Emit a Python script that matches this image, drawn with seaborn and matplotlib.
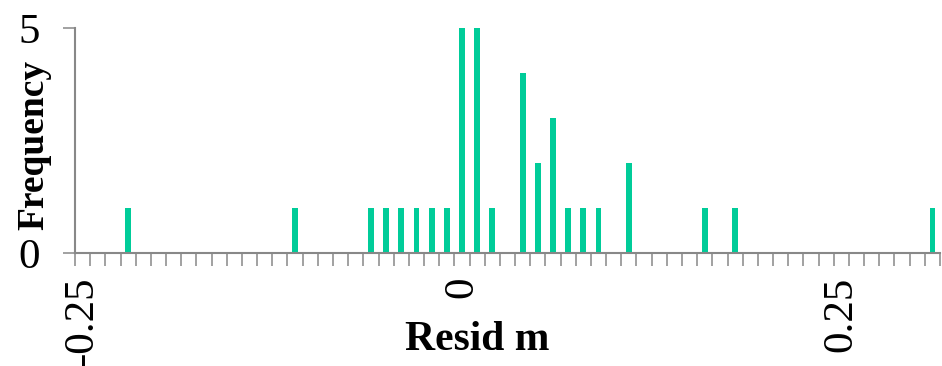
import numpy as np
import pandas as pd
import seaborn as sns
import matplotlib
matplotlib.use("Agg")
import matplotlib.pyplot as plt

# residual bins (bin centre) and how many residuals fall in each
bin_centers = [-0.22, -0.11, -0.06, -0.05, -0.04, -0.03, -0.02, -0.01, 0.00, 0.01,
               0.02, 0.04, 0.05, 0.06, 0.07, 0.08, 0.09, 0.11, 0.16, 0.18, 0.31]
counts = [1, 1, 1, 1, 1, 1, 1, 1, 5, 5,
          1, 4, 2, 3, 1, 1, 1, 2, 1, 1, 1]
x_tick_values = [-0.25, 0, 0.25]
x_tick_labels = ["-0.25", "0", "0.25"]
y_tick_values = [0, 5]

df = pd.DataFrame({"Resid m": bin_centers, "n": counts})

sns.set_style("white")
plt.rcParams["font.family"] = ["Liberation Serif", "DejaVu Serif"]
plt.rcParams["text.color"] = "black"
plt.rcParams["axes.labelcolor"] = "black"

grey = "#888888"
bar_color = "#00CC99"

fig = plt.figure(figsize=(9.42, 3.66), dpi=100)
ax = fig.add_axes([75 / 942, 1 - 253 / 366, 865 / 942, 225 / 366])

edges = np.round(np.arange(-0.255, 0.3151, 0.01), 3)
sns.histplot(data=df, x="Resid m", weights="n", binwidth=0.01,
             binrange=(-0.255, 0.315), shrink=0.38,
             color=bar_color, alpha=1, linewidth=0, ax=ax)

ax.set_xlim(-0.255, 0.315)
ax.set_ylim(0, 5)

sns.despine(ax=ax)
for side in ["left", "bottom"]:
    ax.spines[side].set_color(grey)
    ax.spines[side].set_linewidth(1.5)

# labelled ticks at bin centres, tick marks at bin edges
ax.set_xticks(x_tick_values)
ax.set_xticklabels(x_tick_labels, rotation=90)
ax.set_xticks(edges, minor=True)
ax.tick_params(axis="x", which="major", length=0, pad=17, labelsize=31,
               labelcolor="black")
ax.tick_params(axis="x", which="minor", length=9.5, width=1.1, color=grey,
               direction="out", bottom=True)

ax.set_yticks(y_tick_values)
ax.tick_params(axis="y", which="major", length=8.6, width=1.1, color=grey,
               direction="out", left=True, pad=17, labelsize=31,
               labelcolor="black")

ax.set_xlabel("Resid m", fontsize=30, fontweight="bold")
ax.set_ylabel("Frequency", fontsize=27, fontweight="bold")
ax.xaxis.set_label_coords(0.465, -0.30)
ax.yaxis.set_label_coords(-0.027, 0.48)

fig.savefig("out.png", dpi=100)
